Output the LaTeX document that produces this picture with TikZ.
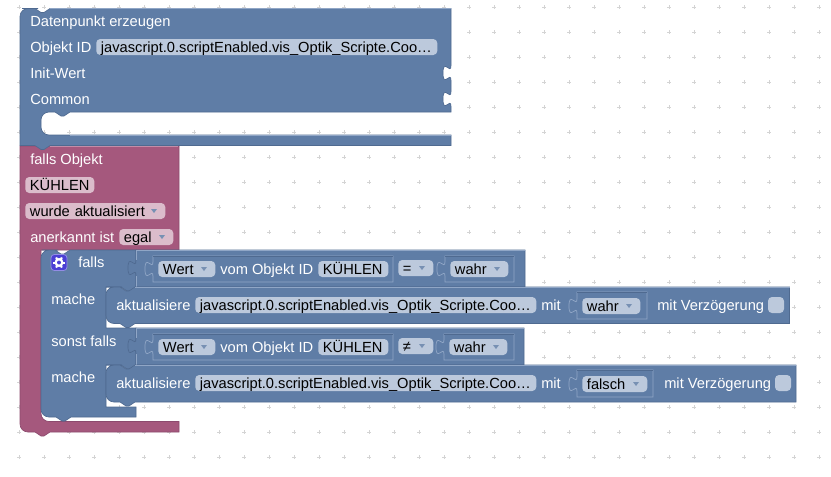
\documentclass[tikz,border=0pt]{standalone}
\usepackage{fontspec}
\setmainfont{Liberation Sans}
\definecolor{blueblock}{HTML}{5F7DA6}
\definecolor{blueedge}{HTML}{4F6A90}
\definecolor{bluelight}{HTML}{90A6C6}
\definecolor{bluefield}{HTML}{BCC9DC}
\definecolor{pinkblock}{HTML}{A5587D}
\definecolor{pinkedge}{HTML}{8C4A6E}
\definecolor{pinklight}{HTML}{C48DA8}
\definecolor{pinkfield}{HTML}{DBBCCB}
\definecolor{gearbox}{HTML}{4B3FD4}
\tikzset{
	gridmark/.style={draw=black!17, line width=.45pt},
	blueblk/.style={fill=blueblock, draw=blueedge, line width=.5pt},
	pinkblk/.style={fill=pinkblock, draw=pinkedge, line width=.5pt},
	toplight/.style={draw=bluelight, line width=.6pt},
	slotbox/.style={fill=blueblock, draw=bluelight, line width=.55pt},
	slotdark/.style={draw=blueedge, line width=.55pt},
	lbl/.style={anchor=base west, text=white, inner sep=0pt, font=\fontsize{11}{13}\selectfont},
	field/.style={anchor=west, fill=bluefield, text=black, rounded corners=3pt, align=left,
		inner xsep=3.5pt, inner ysep=.75pt, text height=9pt, text depth=1.5pt,
		font=\fontsize{11}{13}\selectfont},
	pinkfld/.style={field, fill=pinkfield},
	droparrow/.style={fill=blueblock!85},
}
% tabs of the blocks
\def\tabdown{-- ++(6,4) -- ++(3,0) -- ++(6,-4)}
\def\tabback{-- ++(-6,4) -- ++(-3,0) -- ++(-6,-4)}
% puzzle socket on a vertical edge, walked downwards
\newcommand{\socket}[2]{-- (#1,#2-7.5) .. controls (#1,#2+2.5) and (#1-8,#2-15.5) .. (#1-8,#2)
	.. controls (#1-8,#2+15.5) and (#1,#2-2.5) .. (#1,#2+7.5)}
% field: style, name, left x, centre y, width, text
\newcommand{\field}[6][field]{\node[#1, text width=#5*.75pt-7pt] (#2) at (#3,#4) {#6};}
\newcommand{\dropfield}[6][field]{\field[#1]{#2}{#3}{#4}{#5}{#6}
	\fill[droparrow] (#3+#5-14,#4-2) -- (#3+#5-8,#4-2) -- (#3+#5-11,#4+2) -- cycle;}
\begin{document}
\begin{tikzpicture}[x=.75pt, y=-.75pt, rounded corners=0pt]
	\useasboundingbox (0,0) rectangle (831,476);
	\fill[white] (0,0) rectangle (831,476);
	% workspace grid
	\foreach \x in {19,44,...,819}
	{
		\foreach \y in {7,32,...,457}
		{
			\draw[gridmark] (\x-1.7,\y) -- (\x+1.7,\y) (\x,\y-1.7) -- (\x,\y+1.7);
		}
	}
	% trigger block
	\path[pinkblk] (20,146) -- (179,146) -- (179,250) -- (41,250) [rounded corners=6pt] -- (41,421.5) -- (100,421.5) [sharp corners] -- (179,421.5) -- (179,432) -- (50,432) \tabback [rounded corners=6pt] -- (20,432) -- (20,300) [sharp corners] -- cycle;
	% create state block
	\path[blueblk] (20,30) [rounded corners=6pt] -- (20,8.5) -- (30,8.5) [sharp corners] -- (35,8.5) \tabdown -- (451,8.5) \socket{451}{73} \socket{451}{99} -- (451,112) -- (70,112) \tabback [rounded corners=6pt] -- (41,112) -- (41,135) -- (100,135) [sharp corners] -- (451,135) -- (451,145.5) -- (50,145.5) \tabback -- (20,145.5) -- cycle;
	\draw[toplight] (50,8.5) -- (451,8.5);
	\draw[toplight] (70,135) -- (451,135);
	\draw[draw=pinklight, line width=.6pt] (50,146.5) -- (178,146.5);
	% if block with its two statement inputs
	\path[blueblk] (41,300) [rounded corners=6pt] -- (41,250) -- (50,250) [sharp corners] -- (55,250) \tabdown -- (136,250) -- (136,287) \tabback -- (106,287) -- (106,328) -- (136,328) -- (136,365) \tabback -- (106,365) -- (106,407) -- (136,407) -- (136,417) -- (71,417) \tabback [rounded corners=6pt] -- (41,417) -- (41,380) [sharp corners] -- cycle;
	% labels of the upper blocks
	\node[lbl] (lblCreate) at (30,26) {Datenpunkt erzeugen};
	\node[lbl] (lblObject) at (30,52) {Objekt ID};
	\field{fldObject}{96}{47}{341}{javascript.0.scriptEnabled.vis\_Optik\_Scripte.Coo…}
	\node[lbl] (lblInit) at (30,78) {Init-Wert};
	\node[lbl] (lblCommon) at (30,104) {Common};
	\node[lbl] (lblTrigger) at (30,164) {falls Objekt};
	\field[pinkfld]{fldTrigger}{25}{185}{69}{KÜHLEN}
	\dropfield[pinkfld]{fldEvent}{25}{211}{140}{wurde aktualisiert}
	\node[lbl] (lblAck) at (30,242) {anerkannt ist};
	\dropfield[pinkfld]{fldAck}{119}{237}{54}{egal}
	% gear button
	\node[fill=gearbox, draw=gearbox!60, line width=.6pt, rounded corners=2.5pt, minimum size=12pt, inner sep=0pt] (btnGear) at (59,262.5) {};
	\foreach \angle in {0,60,...,300}
	{
		\draw[white, line width=1.5pt] (btnGear.center) -- ++(\angle:5.8);
	}
	\fill[white] (btnGear.center) circle (4.5);
	\fill[gearbox] (btnGear.center) circle (2);
	\node[lbl] (lblIf) at (78,267) {falls};
	\node[lbl] (lblThen) at (51,304) {mache};
	\node[lbl] (lblElse) at (51,346) {sonst falls};
	\node[lbl] (lblThenB) at (51,382) {mache};
	% comparison rows
	\foreach \rowy/\sign/\slotx/\right [count=\index] in {269/=/445/525, 347/≠/444/524}
	{
		\path[blueblk] (136,\rowy-19) \socket{136}{\rowy-1} -- (136,\rowy+18) -- (\right,\rowy+18) -- (\right,\rowy-19) -- cycle;
		\draw[toplight] (136,\rowy-19) -- (\right,\rowy-19);
		\draw[draw=bluelight, line width=.6pt] (136,\rowy-19) -- (136,\rowy-9) (136,\rowy+7) -- (136,\rowy+18);
		\path[slotbox] (153,\rowy-13) \socket{153}{\rowy} -- (153,\rowy+13) -- (393,\rowy+13) -- (393,\rowy-13) -- cycle;
		\draw[slotdark] (153,\rowy-13) -- (393,\rowy-13);
		\dropfield{fldValue\index}{158}{\rowy}{57}{Wert}
		\node[lbl] (lblFrom\index) at (220,\rowy+5) {vom Objekt ID};
		\field{fldObj\index}{318}{\rowy}{70}{KÜHLEN}
		\dropfield{fldOp\index}{398}{\rowy-1}{35}{\sign}
		\path[slotbox] (\slotx,\rowy-13) \socket{\slotx}{\rowy} -- (\slotx,\rowy+13) -- (514,\rowy+13) -- (514,\rowy-13) -- cycle;
		\draw[slotdark] (\slotx,\rowy-13) -- (514,\rowy-13);
		\dropfield{fldRhs\index}{\slotx+5}{\rowy}{58}{wahr}
	}
	% statement rows
	\foreach \rowy/\bottom/\val/\slotr/\fldw/\textx/\chkx/\right [count=\index] in {305/323.5/wahr/647/58/657/776/789.5, 383/402/falsch/653/65/664/783/796}
	{
		\path[blueblk] (106,\rowy) [rounded corners=6pt] -- (106,\rowy-18) -- (114,\rowy-18) [sharp corners] -- (120,\rowy-18) \tabdown -- (\right,\rowy-18) -- (\right,\bottom) -- (135,\bottom) \tabback [rounded corners=6pt] -- (106,\bottom) -- (106,\rowy+2) [sharp corners] -- cycle;
		\draw[toplight] (135,\rowy-18) -- (\right,\rowy-18);
		\node[lbl] (lblSet\index) at (116,\rowy+5) {aktualisiere};
		\field{fldState\index}{195}{\rowy}{341}{javascript.0.scriptEnabled.vis\_Optik\_Scripte.Coo…}
		\node[lbl] (lblWith\index) at (541,\rowy+5) {mit};
		\path[slotbox] (577,\rowy-13) \socket{577}{\rowy+1} -- (577,\rowy+14) -- (\slotr,\rowy+14) -- (\slotr,\rowy-13) -- cycle;
		\draw[slotdark] (577,\rowy-13) -- (\slotr,\rowy-13);
		\dropfield{fldVal\index}{582}{\rowy+1}{\fldw}{\val}
		\node[lbl] (lblDelay\index) at (\textx,\rowy+5) {mit Verzögerung};
		\node[fill=bluefield, rounded corners=3pt, minimum size=12pt, inner sep=0pt] (chkDelay\index) at (\chkx,\rowy) {};
	}
\end{tikzpicture}
\end{document}
